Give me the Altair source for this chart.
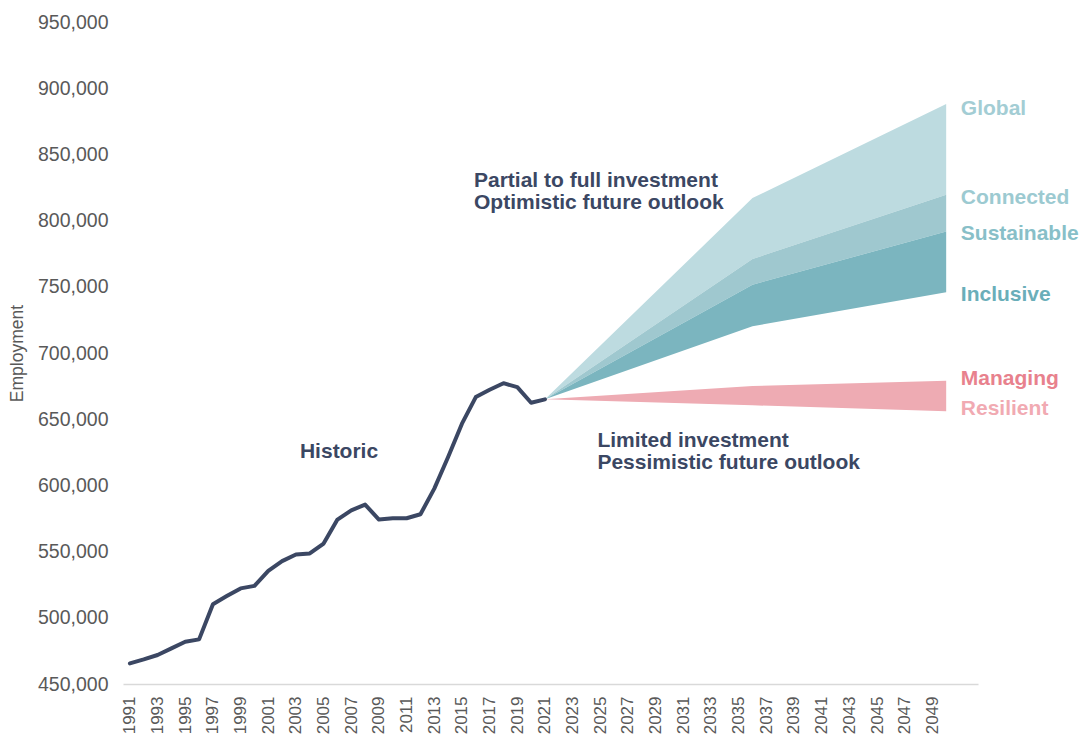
import altair as alt
import pandas as pd

# ---- data ----
hist_years = list(range(1991, 2022))
hist_values = [465600, 468600, 471900, 476900, 481900, 483700, 510300, 516400,
               522200, 524100, 535500, 542800, 547800, 548600, 556100, 574200,
               581200, 585500, 574200, 575200, 575200, 578200, 597600, 621400,
               646600, 666700, 672200, 677200, 674200, 662400, 665000]

fc_years = [2021, 2036, 2050]
global_vals = [665000, 817000, 888000]
connected_vals = [665000, 771000, 819500]
sustainable_vals = [665000, 751600, 791800]
inclusive_vals = [665000, 720200, 745800]
managing_vals = [665000, 675000, 679000]
resilient_vals = [665000, 660500, 656000]

band_names = ["Global", "Connected", "Inclusive", "Managing"]
band_colors = ["#bddbe0", "#9fc8cf", "#7bb5bf", "#eeabb3"]

y_ticks = [450000, 500000, 550000, 600000, 650000, 700000, 750000, 800000, 850000, 900000, 950000]
x_ticks = list(range(1991, 2050, 2))

# scenario labels (right side)
scen_labels = ["Global", "Connected", "Sustainable", "Inclusive", "Managing", "Resilient"]
scen_colors = ["#a3cdd4", "#9ccad1", "#88bfc8", "#6aaeb9", "#e8818d", "#f1aab2"]
scen_x = [2051.06] * 6
scen_y = [880000, 812500, 785350, 739050, 675480, 652850]

# annotations
ann_labels = ["Historic", "Partial to full investment", "Optimistic future outlook",
              "Limited investment", "Pessimistic future outlook"]
ann_x = [2003.29, 2015.87, 2015.87, 2024.79, 2024.79]
ann_y = [620950, 825500, 808800, 628950, 612300]

FONT = "Liberation Sans"
NAVY = "#3b4763"
GREY = "#595959"

hist_df = pd.DataFrame({"year": hist_years, "employment": hist_values})
band_df = pd.DataFrame({
    "year": fc_years * 4,
    "lo": connected_vals + sustainable_vals + inclusive_vals + resilient_vals,
    "hi": global_vals + connected_vals + sustainable_vals + managing_vals,
    "band": [b for b in band_names for _ in fc_years],
})
scen_df = pd.DataFrame({"label": scen_labels, "year": scen_x, "value": scen_y, "color": scen_colors})
ann_df = pd.DataFrame({"label": ann_labels, "year": ann_x, "value": ann_y})

xscale = alt.Scale(domain=[1990.5, 2052.3], nice=False, zero=False)
yscale = alt.Scale(domain=[450000, 950000], nice=False, zero=False)

xaxis = alt.Axis(values=x_ticks, format="d", labelAngle=270, ticks=False, grid=False,
                 domainColor="#d9d9d9", domainWidth=1.5, labelColor=GREY,
                 labelFontSize=17, labelPadding=12, labelFont=FONT, labelOverlap=False)
yaxis = alt.Axis(values=y_ticks, format=",.0f", ticks=False, grid=False, domain=False,
                 labelColor=GREY, labelFontSize=19.5, labelPadding=15, labelFont=FONT,
                 titleColor=GREY, titleFontSize=17.5, titleFontWeight="normal",
                 titleFont=FONT, titlePadding=11)

X = alt.X("year:Q", scale=xscale, axis=xaxis, title=None)

bands = alt.Chart(band_df).mark_area(opacity=1).encode(
    x=X,
    y=alt.Y("lo:Q", scale=yscale, axis=yaxis, title="Employment"),
    y2="hi:Q",
    color=alt.Color("band:N", scale=alt.Scale(domain=band_names, range=band_colors), legend=None),
)

line = alt.Chart(hist_df).mark_line(color=NAVY, strokeWidth=4, strokeJoin="round", strokeCap="round").encode(
    x=X,
    y=alt.Y("employment:Q", scale=yscale, axis=yaxis, title="Employment"),
)

scen = alt.Chart(scen_df).mark_text(align="left", baseline="alphabetic", font=FONT,
                                    fontSize=21, fontWeight="bold").encode(
    x=X,
    y=alt.Y("value:Q", scale=yscale, axis=yaxis, title="Employment"),
    text="label:N",
    color=alt.Color("color:N", scale=None),
)

ann = alt.Chart(ann_df).mark_text(align="left", baseline="alphabetic", font=FONT,
                                  fontSize=21, fontWeight="bold", color=NAVY).encode(
    x=X,
    y=alt.Y("value:Q", scale=yscale, axis=yaxis, title="Employment"),
    text="label:N",
)

chart = alt.layer(bands, line, scen, ann).properties(
    width=855, height=662,
    padding={"left": 115, "top": 14, "right": 105, "bottom": 52},
    autosize=alt.AutoSizeParams(type="none"),
).configure(font=FONT).configure_view(stroke=None)

chart.save("out.html", embed_options={"renderer": "svg", "actions": False})
